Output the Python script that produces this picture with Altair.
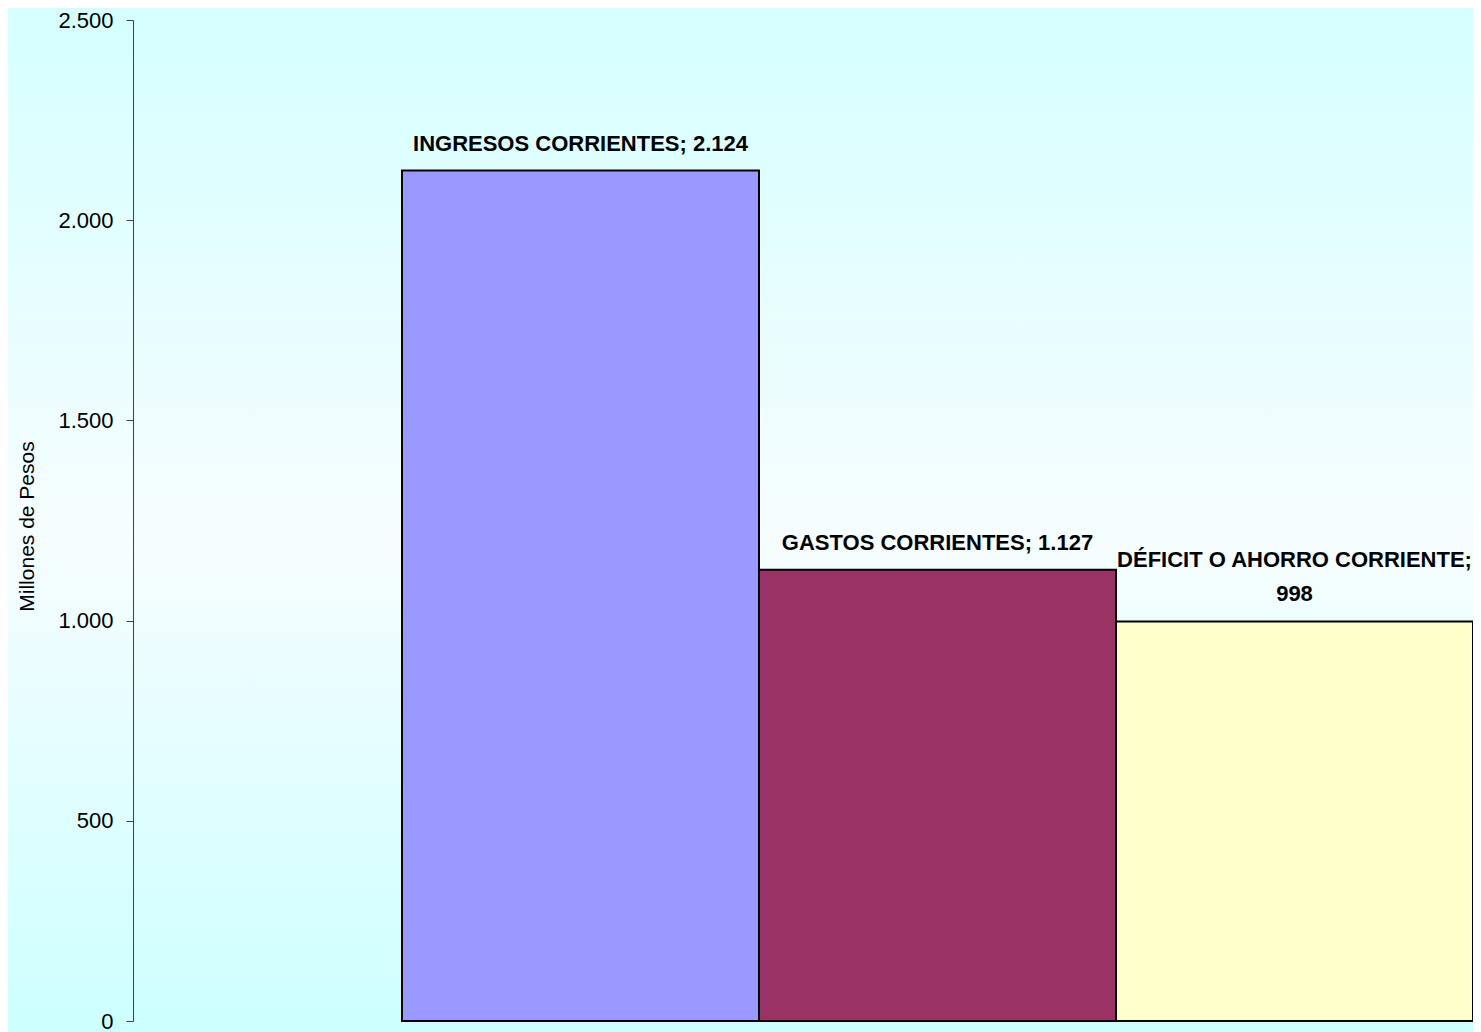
import altair as alt
import pandas as pd

categories = ["INGRESOS CORRIENTES", "GASTOS CORRIENTES", "DÉFICIT O AHORRO CORRIENTE"]
values = [2124, 1127, 998]
label_upper = ["", "", "DÉFICIT O AHORRO CORRIENTE;"]
label_lower = ["INGRESOS CORRIENTES; 2.124", "GASTOS CORRIENTES; 1.127", "998"]
colors = ["#9999ff", "#993366", "#ffffcc"]
y_ticks = [0, 500, 1000, 1500, 2000, 2500]

FONT = "Liberation Sans, Arial, sans-serif"
W, H = 1340, 1001

df = pd.DataFrame({"cat": categories, "val": values, "up": label_upper,
                   "low": label_lower, "color": colors})

bg = alt.Chart(alt.Data(values=[{"a": 1}])).mark_rect(
    fill=alt.Gradient(
        gradient="linear", x1=0, y1=0, x2=0, y2=1,
        stops=[alt.GradientStop(color="#d5ffff", offset=0),
               alt.GradientStop(color="#f6fdff", offset=0.52),
               alt.GradientStop(color="#ccffff", offset=1)]
    )
).encode(
    x=alt.value(-130), x2=alt.value(W + 10),
    y=alt.value(-14), y2=alt.value(H + 14)
)

yscale = alt.Scale(domain=[0, 2500], nice=False)
xenc = alt.X("cat:N", sort=categories,
             scale=alt.Scale(range=[269, W], paddingInner=0, paddingOuter=0),
             axis=None)

bars = alt.Chart(df).mark_bar(stroke="#000000", strokeWidth=2).encode(
    x=xenc,
    y=alt.Y("val:Q", scale=yscale,
            axis=alt.Axis(values=y_ticks, title="Millones de Pesos", zindex=1,
                          labelExpr="replace(format(datum.value, ','), ',', '.')",
                          grid=False, domainColor="#404040", tickColor="#404040",
                          tickSize=7, labelPadding=13, labelFont=FONT, labelFontSize=22,
                          labelColor="#000000", titleFont=FONT, titleFontSize=21,
                          titleFontWeight="normal", titleColor="#000000",
                          titleAngle=-90, titleX=-100, titleY=506,
                          titleBaseline="alphabetic", titleAlign="center")),
    fill=alt.Fill("color:N", scale=None),
)

text_low = alt.Chart(df).mark_text(
    baseline="alphabetic", align="center", dy=-20, font=FONT, fontSize=22,
    fontWeight="bold", color="#000000"
).encode(x=xenc, y=alt.Y("val:Q", scale=yscale), text="low:N")

text_up = alt.Chart(df).mark_text(
    baseline="alphabetic", align="center", dy=-54, font=FONT, fontSize=22,
    fontWeight="bold", color="#000000"
).encode(x=xenc, y=alt.Y("val:Q", scale=yscale), text="up:N")

chart = alt.layer(bg, bars, text_low, text_up).properties(
    width=W, height=H,
    autosize=alt.AutoSizeParams(type="none"),
    padding={"left": 125, "top": 12, "right": 0, "bottom": 11},
    background="#ccffff",
).configure_view(stroke=None)

chart.save("out.html", embed_options={"renderer": "svg", "actions": False})
